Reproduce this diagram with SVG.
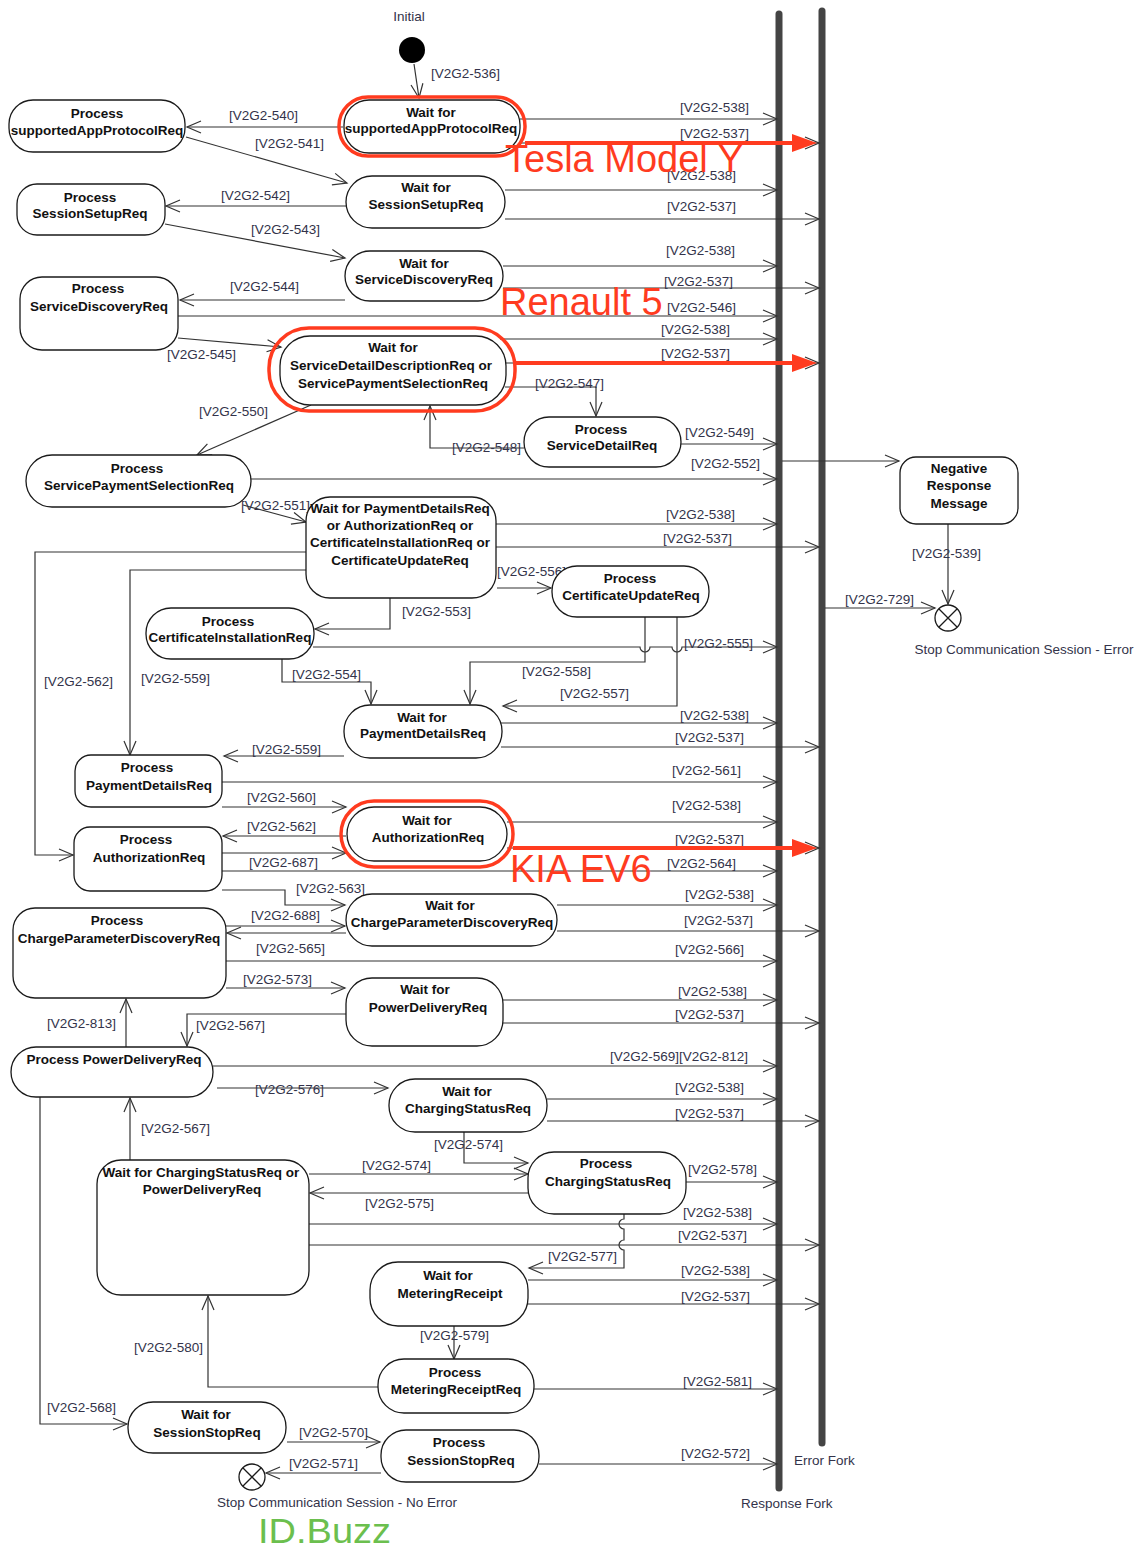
<svg xmlns="http://www.w3.org/2000/svg" width="1146" height="1551" viewBox="0 0 1146 1551">
<style>
.n{fill:#fff;stroke:#1a1a1a;stroke-width:1.3}
.nt{font-family:"Liberation Sans",Arial,sans-serif;font-size:13.5px;font-weight:bold;text-anchor:middle;fill:#111}
.l{font-family:"Liberation Sans",Arial,sans-serif;font-size:13.5px;fill:#33334a}
.c{fill:none;stroke:#333;stroke-width:1.2;marker-end:url(#a)}
.fork{stroke:#444;stroke-width:7;stroke-linecap:round}
.hl{fill:none;stroke:#ff3b1f;stroke-width:3.5}
.ann{font-family:"Liberation Sans",Arial,sans-serif;font-size:38px;fill:#ff3b1f}
.ra{stroke:#ff3b1f;stroke-width:4}
</style>
<defs>
<marker id="a" markerUnits="userSpaceOnUse" markerWidth="18" markerHeight="16" refX="15" refY="7" orient="auto" overflow="visible"><path d="M1,1 L15,7 L1,13" fill="none" stroke="#333" stroke-width="1.2"/></marker>
</defs>
<rect width="1146" height="1551" fill="#fff"/>

<!-- fork bars -->
<g id="forks">
<line class="fork" x1="779" y1="14" x2="779" y2="1488"/>
<line class="fork" x1="822" y1="11" x2="822" y2="1443"/>
<text class="l" x="794" y="1465">Error Fork</text>
<text class="l" x="741" y="1508">Response Fork</text>
</g>

<g id="connectors">
<path class="c" d="M414,64 L419,98"/>
<path class="c" d="M343,127 H187"/>
<path class="c" d="M186,137 L347,183"/>
<path class="c" d="M520,119 H777"/>
<path class="c" d="M520,143 H819"/>
<path class="c" d="M505,190 H777"/>
<path class="c" d="M505,219 H819"/>
<path class="c" d="M346,206 H166"/>
<path class="c" d="M165,224 L345,258"/>
<path class="c" d="M503,266 H777"/>
<path class="c" d="M503,288 H819"/>
<path class="c" d="M345,300 H180"/>
<path class="c" d="M178,316 H777"/>
<path class="c" d="M178,338 L281,347"/>
<path class="c" d="M500,339 H777"/>
<path class="c" d="M505,363 H819"/>
<path class="c" d="M505,387 H596 V416"/>
<path class="c" d="M524,448 H430 V406"/>
<path class="c" d="M681,444 H777"/>
<path class="c" d="M251,479 H777"/>
<path class="c" d="M782,461 H899"/>
<path class="c" d="M311,405 L197,455"/>
<path class="c" d="M243,505 L306,522"/>
<path class="c" d="M496,524 H777"/>
<path class="c" d="M496,547 H819"/>
<path class="c" d="M497,588 H551"/>
<path class="c" d="M390,598 V629 H315"/>
<path class="c" d="M307,552 H35 V855 H73"/>
<path class="c" d="M307,570 H130 V755"/>
<path class="c" d="M313,647 H640 a5,5 0 0 0 10,0 H672 a5,5 0 0 0 10,0 H777"/>
<path class="c" d="M645,617 V662 H470 V704"/>
<path class="c" d="M677,617 V706 H503"/>
<path class="c" d="M282,658 V682 H371 V704"/>
<path class="c" d="M501,723 H777"/>
<path class="c" d="M501,747 H819"/>
<path class="c" d="M344,756 H224"/>
<path class="c" d="M222,782 H777"/>
<path class="c" d="M222,807 H346"/>
<path class="c" d="M346,836 H223"/>
<path class="c" d="M222,853 H346"/>
<path class="c" d="M507,822 H777"/>
<path class="c" d="M507,848 H819"/>
<path class="c" d="M222,871 H777"/>
<path class="c" d="M222,890 H285 V905 H345"/>
<path class="c" d="M226,926 H345"/>
<path class="c" d="M346,933 H227"/>
<path class="c" d="M557,905 H777"/>
<path class="c" d="M557,931 H819"/>
<path class="c" d="M225,961 H777"/>
<path class="c" d="M226,988 H345"/>
<path class="c" d="M503,1000 H777"/>
<path class="c" d="M503,1023 H819"/>
<path class="c" d="M346,1014 H187 V1046"/>
<path class="c" d="M126,1047 V999"/>
<path class="c" d="M213,1066 H777"/>
<path class="c" d="M217,1088 H388"/>
<path class="c" d="M547,1099 H777"/>
<path class="c" d="M547,1121 H819"/>
<path class="c" d="M464,1132 V1163 H528"/>
<path class="c" d="M130,1160 V1098"/>
<path class="c" d="M309,1174 H528"/>
<path class="c" d="M529,1193 H310"/>
<path class="c" d="M686,1182 H777"/>
<path class="c" d="M309,1224 H777"/>
<path class="c" d="M309,1245 H819"/>
<path class="c" d="M624,1214 V1219 a5,5 0 0 0 0,10 V1240 a5,5 0 0 0 0,10 V1268 H529"/>
<path class="c" d="M528,1280 H777"/>
<path class="c" d="M528,1304 H819"/>
<path class="c" d="M454,1326 V1359"/>
<path class="c" d="M378,1387 H208 V1296"/>
<path class="c" d="M534,1389 H777"/>
<path class="c" d="M40,1097 V1424 H127"/>
<path class="c" d="M287,1442 H380"/>
<path class="c" d="M539,1464 H777"/>
<path class="c" d="M381,1473 H266"/>
<path class="c" d="M825,608 H935"/>
<path class="c" d="M948,524 V604"/>

<text class="l" x="431" y="78">[V2G2-536]</text>
<text class="l" x="229" y="120">[V2G2-540]</text>
<text class="l" x="255" y="148">[V2G2-541]</text>
<text class="l" x="680" y="112">[V2G2-538]</text>
<text class="l" x="680" y="138">[V2G2-537]</text>
<text class="l" x="667" y="180">[V2G2-538]</text>
<text class="l" x="667" y="211">[V2G2-537]</text>
<text class="l" x="221" y="200">[V2G2-542]</text>
<text class="l" x="251" y="234">[V2G2-543]</text>
<text class="l" x="666" y="255">[V2G2-538]</text>
<text class="l" x="664" y="286">[V2G2-537]</text>
<text class="l" x="230" y="291">[V2G2-544]</text>
<text class="l" x="667" y="312">[V2G2-546]</text>
<text class="l" x="661" y="334">[V2G2-538]</text>
<text class="l" x="661" y="358">[V2G2-537]</text>
<text class="l" x="167" y="359">[V2G2-545]</text>
<text class="l" x="535" y="388">[V2G2-547]</text>
<text class="l" x="199" y="416">[V2G2-550]</text>
<text class="l" x="452" y="452">[V2G2-548]</text>
<text class="l" x="685" y="437">[V2G2-549]</text>
<text class="l" x="691" y="468">[V2G2-552]</text>
<text class="l" x="241" y="510">[V2G2-551]</text>
<text class="l" x="666" y="519">[V2G2-538]</text>
<text class="l" x="663" y="543">[V2G2-537]</text>
<text class="l" x="497" y="576">[V2G2-556]</text>
<text class="l" x="402" y="616">[V2G2-553]</text>
<text class="l" x="845" y="604">[V2G2-729]</text>
<text class="l" x="912" y="558">[V2G2-539]</text>
<text class="l" x="684" y="648">[V2G2-555]</text>
<text class="l" x="522" y="676">[V2G2-558]</text>
<text class="l" x="560" y="698">[V2G2-557]</text>
<text class="l" x="44" y="686">[V2G2-562]</text>
<text class="l" x="141" y="683">[V2G2-559]</text>
<text class="l" x="292" y="679">[V2G2-554]</text>
<text class="l" x="680" y="720">[V2G2-538]</text>
<text class="l" x="675" y="742">[V2G2-537]</text>
<text class="l" x="252" y="754">[V2G2-559]</text>
<text class="l" x="672" y="775">[V2G2-561]</text>
<text class="l" x="247" y="802">[V2G2-560]</text>
<text class="l" x="672" y="810">[V2G2-538]</text>
<text class="l" x="247" y="831">[V2G2-562]</text>
<text class="l" x="675" y="844">[V2G2-537]</text>
<text class="l" x="249" y="867">[V2G2-687]</text>
<text class="l" x="667" y="868">[V2G2-564]</text>
<text class="l" x="296" y="893">[V2G2-563]</text>
<text class="l" x="685" y="899">[V2G2-538]</text>
<text class="l" x="251" y="920">[V2G2-688]</text>
<text class="l" x="684" y="925">[V2G2-537]</text>
<text class="l" x="256" y="953">[V2G2-565]</text>
<text class="l" x="675" y="954">[V2G2-566]</text>
<text class="l" x="243" y="984">[V2G2-573]</text>
<text class="l" x="678" y="996">[V2G2-538]</text>
<text class="l" x="47" y="1028">[V2G2-813]</text>
<text class="l" x="196" y="1030">[V2G2-567]</text>
<text class="l" x="675" y="1019">[V2G2-537]</text>
<text class="l" x="610" y="1061">[V2G2-569][V2G2-812]</text>
<text class="l" x="255" y="1094">[V2G2-576]</text>
<text class="l" x="675" y="1092">[V2G2-538]</text>
<text class="l" x="675" y="1118">[V2G2-537]</text>
<text class="l" x="141" y="1133">[V2G2-567]</text>
<text class="l" x="434" y="1149">[V2G2-574]</text>
<text class="l" x="362" y="1170">[V2G2-574]</text>
<text class="l" x="365" y="1208">[V2G2-575]</text>
<text class="l" x="688" y="1174">[V2G2-578]</text>
<text class="l" x="683" y="1217">[V2G2-538]</text>
<text class="l" x="678" y="1240">[V2G2-537]</text>
<text class="l" x="548" y="1261">[V2G2-577]</text>
<text class="l" x="681" y="1275">[V2G2-538]</text>
<text class="l" x="681" y="1301">[V2G2-537]</text>
<text class="l" x="420" y="1340">[V2G2-579]</text>
<text class="l" x="134" y="1352">[V2G2-580]</text>
<text class="l" x="683" y="1386">[V2G2-581]</text>
<text class="l" x="47" y="1412">[V2G2-568]</text>
<text class="l" x="299" y="1437">[V2G2-570]</text>
<text class="l" x="681" y="1458">[V2G2-572]</text>
<text class="l" x="289" y="1468">[V2G2-571]</text>
</g>

<g id="initial">
<circle cx="412" cy="50" r="13" fill="#000"/>
<text class="l" x="409" y="21" text-anchor="middle">Initial</text>
</g>

<g id="n1"><rect class="n" x="9" y="100" width="176" height="52" rx="24"/><text class="nt" x="97" y="118">Process</text><text class="nt" x="97" y="135">supportedAppProtocolReq</text></g>
<g id="n2"><rect class="n" x="344" y="100" width="176" height="53" rx="25"/><text class="nt" x="431" y="117">Wait for</text><text class="nt" x="431" y="133">supportedAppProtocolReq</text><rect class="hl" x="339" y="97" width="186" height="59" rx="29"/></g>
<g id="n3"><rect class="n" x="17" y="184" width="148" height="51" rx="20"/><text class="nt" x="90" y="202">Process</text><text class="nt" x="90" y="218">SessionSetupReq</text></g>
<g id="n4"><rect class="n" x="346" y="176" width="159" height="52" rx="26"/><text class="nt" x="426" y="192">Wait for</text><text class="nt" x="426" y="209">SessionSetupReq</text></g>
<g id="n5"><rect class="n" x="345" y="251" width="158" height="50" rx="25"/><text class="nt" x="424" y="268">Wait for</text><text class="nt" x="424" y="284">ServiceDiscoveryReq</text></g>
<g id="n6"><rect class="n" x="20" y="277" width="158" height="73" rx="22"/><text class="nt" x="98" y="293">Process</text><text class="nt" x="99" y="311">ServiceDiscoveryReq</text></g>
<g id="n7"><rect class="n" x="280" y="336" width="226" height="69" rx="30"/><text class="nt" x="393" y="352">Wait for</text><text class="nt" x="391" y="370">ServiceDetailDescriptionReq or</text><text class="nt" x="393" y="388">ServicePaymentSelectionReq</text><rect class="hl" x="269" y="328" width="246" height="83" rx="40"/></g>
<g id="n8"><rect class="n" x="524" y="417" width="157" height="50" rx="25"/><text class="nt" x="601" y="434">Process</text><text class="nt" x="602" y="450">ServiceDetailReq</text></g>
<g id="n9"><rect class="n" x="26" y="455" width="225" height="52" rx="26"/><text class="nt" x="137" y="473">Process</text><text class="nt" x="139" y="490">ServicePaymentSelectionReq</text></g>
<g id="n10"><rect class="n" x="306" y="497" width="190" height="101" rx="24"/><text class="nt" x="400" y="513">Wait for PaymentDetailsReq</text><text class="nt" x="400" y="530">or AuthorizationReq or</text><text class="nt" x="400" y="547">CertificateInstallationReq or</text><text class="nt" x="400" y="565">CertificateUpdateReq</text></g>
<g id="n11"><rect class="n" x="552" y="566" width="157" height="51" rx="25"/><text class="nt" x="630" y="583">Process</text><text class="nt" x="631" y="600">CertificateUpdateReq</text></g>
<g id="n12"><rect class="n" x="146" y="608" width="168" height="51" rx="25"/><text class="nt" x="228" y="626">Process</text><text class="nt" x="230" y="642">CertificateInstallationReq</text></g>
<g id="n13"><rect class="n" x="344" y="705" width="158" height="53" rx="26"/><text class="nt" x="422" y="722">Wait for</text><text class="nt" x="423" y="738">PaymentDetailsReq</text></g>
<g id="n14"><rect class="n" x="75" y="755" width="147" height="52" rx="16"/><text class="nt" x="147" y="772">Process</text><text class="nt" x="149" y="790">PaymentDetailsReq</text></g>
<g id="n15"><rect class="n" x="347" y="807" width="160" height="54" rx="27"/><text class="nt" x="427" y="825">Wait for</text><text class="nt" x="428" y="842">AuthorizationReq</text><rect class="hl" x="341" y="801" width="172" height="66" rx="33"/></g>
<g id="n16"><rect class="n" x="74" y="827" width="148" height="64" rx="16"/><text class="nt" x="146" y="844">Process</text><text class="nt" x="149" y="862">AuthorizationReq</text></g>
<g id="n17"><rect class="n" x="346" y="894" width="211" height="52" rx="26"/><text class="nt" x="450" y="910">Wait for</text><text class="nt" x="452" y="927">ChargeParameterDiscoveryReq</text></g>
<g id="n18"><rect class="n" x="13" y="908" width="213" height="90" rx="22"/><text class="nt" x="117" y="925">Process</text><text class="nt" x="119" y="943">ChargeParameterDiscoveryReq</text></g>
<g id="n19"><rect class="n" x="346" y="978" width="157" height="68" rx="26"/><text class="nt" x="425" y="994">Wait for</text><text class="nt" x="428" y="1012">PowerDeliveryReq</text></g>
<g id="n20"><rect class="n" x="11" y="1047" width="202" height="50" rx="25"/><text class="nt" x="114" y="1064">Process PowerDeliveryReq</text></g>
<g id="n21"><rect class="n" x="389" y="1079" width="158" height="53" rx="26"/><text class="nt" x="467" y="1096">Wait for</text><text class="nt" x="468" y="1113">ChargingStatusReq</text></g>
<g id="n22"><rect class="n" x="528" y="1152" width="158" height="62" rx="26"/><text class="nt" x="606" y="1168">Process</text><text class="nt" x="608" y="1186">ChargingStatusReq</text></g>
<g id="n23"><rect class="n" x="97" y="1160" width="212" height="135" rx="24"/><text class="nt" x="201" y="1177">Wait for ChargingStatusReq or</text><text class="nt" x="202" y="1194">PowerDeliveryReq</text></g>
<g id="n24"><rect class="n" x="370" y="1262" width="158" height="64" rx="28"/><text class="nt" x="448" y="1280">Wait for</text><text class="nt" x="450" y="1298">MeteringReceipt</text></g>
<g id="n25"><rect class="n" x="378" y="1359" width="156" height="54" rx="26"/><text class="nt" x="455" y="1377">Process</text><text class="nt" x="456" y="1394">MeteringReceiptReq</text></g>
<g id="n26"><rect class="n" x="128" y="1402" width="158" height="51" rx="25"/><text class="nt" x="206" y="1419">Wait for</text><text class="nt" x="207" y="1437">SessionStopReq</text></g>
<g id="n27"><rect class="n" x="381" y="1430" width="158" height="52" rx="25"/><text class="nt" x="459" y="1447">Process</text><text class="nt" x="461" y="1465">SessionStopReq</text></g>
<g id="n28"><rect class="n" x="900" y="457" width="118" height="67" rx="16"/><text class="nt" x="959" y="473">Negative</text><text class="nt" x="959" y="490">Response</text><text class="nt" x="959" y="508">Message</text></g>

<g id="stopError">
<circle cx="948" cy="618" r="13" fill="#fff" stroke="#1a1a1a" stroke-width="1.3"/>
<path d="M939,609 L957,627 M957,609 L939,627" stroke="#1a1a1a" stroke-width="1.3"/>
<text class="l" x="1024" y="654" text-anchor="middle">Stop Communication Session - Error</text>
</g>
<g id="stopNoError">
<circle cx="252" cy="1477" r="13" fill="#fff" stroke="#1a1a1a" stroke-width="1.3"/>
<path d="M243,1468 L261,1486 M261,1468 L243,1486" stroke="#1a1a1a" stroke-width="1.3"/>
<text class="l" x="337" y="1507" text-anchor="middle">Stop Communication Session - No Error</text>
</g>

<g id="annotations">
<line class="ra" x1="525" y1="143" x2="798" y2="143"/>
<polygon points="792,134 817,143 792,152" fill="#ff3b1f"/>
<line class="ra" x1="515" y1="363" x2="798" y2="363"/>
<polygon points="792,354 817,363 792,372" fill="#ff3b1f"/>
<line class="ra" x1="513" y1="848" x2="798" y2="848"/>
<polygon points="792,839 817,848 792,857" fill="#ff3b1f"/>
<text class="ann" x="505" y="172">Tesla Model Y</text>
<text class="ann" x="500" y="315">Renault 5</text>
<text class="ann" x="510" y="882">KIA EV6</text>
<text class="ann" x="258" y="1543" style="fill:#6bbf4e;font-size:35px" textLength="133" lengthAdjust="spacingAndGlyphs">ID.Buzz</text>
</g>
</svg>
